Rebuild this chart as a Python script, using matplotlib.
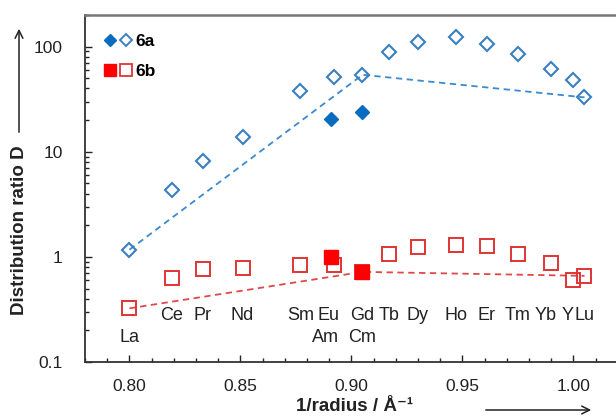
import numpy as np
import matplotlib
matplotlib.use("Agg")
import matplotlib.pyplot as plt
from matplotlib.lines import Line2D
from matplotlib.legend_handler import HandlerTuple

plt.rcParams['font.family'] = ['Liberation Sans', 'DejaVu Sans']

# lanthanides (+Y), open symbols
elements = ['La', 'Ce', 'Pr', 'Nd', 'Sm', 'Eu', 'Gd', 'Tb', 'Dy', 'Ho', 'Er', 'Tm', 'Yb', 'Y', 'Lu']
inv_radius = [0.800, 0.819, 0.833, 0.851, 0.877, 0.892, 0.905, 0.917, 0.930, 0.947, 0.961, 0.975, 0.990, 1.000, 1.005]
D_6a = [1.17, 4.35, 8.2, 13.7, 37.5, 51.4, 54.0, 88, 110, 123, 106, 85, 61, 48.5, 32.9]
D_6b = [0.324, 0.627, 0.764, 0.78, 0.84, 0.84, 0.72, 1.07, 1.25, 1.30, 1.27, 1.07, 0.88, 0.60, 0.66]

# actinides, filled symbols
actinides = ['Am', 'Cm']
inv_radius_an = [0.891, 0.905]
D_6a_an = [20.6, 23.9]
D_6b_an = [0.99, 0.72]

# dashed guide lines (La -> Gd -> Lu)
guide_x = [0.800, 0.905, 1.005]
guide_6a = [1.17, 54.0, 32.9]
guide_6b = [0.324, 0.72, 0.66]

blue_open = '#3a7fbf'
blue_fill = '#0a6cc0'
red_open = '#e03434'
red_fill = '#ff0000'

fig = plt.figure(figsize=(6.16, 4.16), dpi=100)
ax = fig.add_axes([85/616, 54/416, 531/616, 347/416])

ax.plot(guide_x, guide_6a, ls=(0, (3.5, 2.5)), color='#3a8ad0', lw=1.3)
ax.plot(guide_x, guide_6b, ls=(0, (3.5, 2.5)), color='#e04848', lw=1.3)

ax.plot(inv_radius, D_6a, 'D', ms=7, mfc='none', mec=blue_open, mew=1.5, ls='none')
ax.plot(inv_radius, D_6b, 's', ms=9.5, mfc='none', mec=red_open, mew=1.4, ls='none')
ax.plot(inv_radius_an, D_6a_an, 'D', ms=7.5, mfc=blue_fill, mec=blue_fill, ls='none')
ax.plot(inv_radius_an, D_6b_an, 's', ms=10, mfc=red_fill, mec=red_fill, ls='none')

# element labels under the symbols
nudge = {'Eu': -0.0025, 'Yb': -0.0025, 'Y': -0.0025}
for el, x in zip(elements, inv_radius):
    y = 0.17 if el == 'La' else 0.274
    ax.text(x + nudge.get(el, 0), y, el, ha='center', va='center', fontsize=13, color='#222222')
for el, x in zip(actinides, inv_radius_an):
    ax.text(x - 0.0025 if el == 'Am' else x, 0.17, el, ha='center', va='center', fontsize=13, color='#222222')

ax.set_yscale('log')
ax.set_xlim(0.78, 0.78 + 531/111*0.05)
ax.set_ylim(0.1, 200)
ax.set_xticks([0.80, 0.85, 0.90, 0.95, 1.00])
ax.set_xticklabels(['0.80', '0.85', '0.90', '0.95', '1.00'])
ax.set_xticks(np.arange(0.78, 1.02, 0.01), minor=True)
ax.set_yticks([0.1, 1, 10, 100])
ax.set_yticklabels(['0.1', '1', '10', '100'])
ax.tick_params(which='both', direction='in', top=False, right=False, labelsize=12.5, colors='#222222')
ax.tick_params(axis='x', pad=12)
ax.tick_params(axis='y', pad=16)
ax.tick_params(which='major', length=5, width=1)
ax.tick_params(which='minor', length=3, width=1)

for s in ['left', 'bottom']:
    ax.spines[s].set_color('#333333')
    ax.spines[s].set_linewidth(1.3)
ax.spines['top'].set_color('#777777')
ax.spines['top'].set_linewidth(1.8)
ax.spines['right'].set_visible(False)

# legend with filled + open symbol pairs
h6a = (Line2D([], [], marker='D', ms=6.5, color=blue_fill, ls='none'),
       Line2D([], [], marker='D', ms=6.5, mfc='none', mec=blue_open, mew=1.4, ls='none'))
h6b = (Line2D([], [], marker='s', ms=8.5, color=red_fill, ls='none'),
       Line2D([], [], marker='s', ms=8.5, mfc='none', mec=red_open, mew=1.3, ls='none'))
leg = ax.legend([h6a, h6b], ['6a', '6b'], handler_map={tuple: HandlerTuple(ndivide=None, pad=0.05)},
                loc='upper left', bbox_to_anchor=(0.005, 0.99), frameon=False, handlelength=1.7,
                handletextpad=0.15, labelspacing=0.85, prop={'weight': 'bold', 'size': 12.5})

# axis labels with arrows
fig.text(20/616, 1 - 230/416, 'Distribution ratio D', rotation=90, ha='center', va='center',
         fontsize=13.5, fontweight='bold', color='#222222')
fig.text(355/616, 1 / 416, '1/radius / Å⁻¹', ha='center', va='bottom',
         fontsize=13.5, fontweight='bold', color='#222222')
fig.add_artist(matplotlib.patches.FancyArrowPatch((19/616, 1 - 135/416), (19/616, 1 - 26/416),
               transform=fig.transFigure, arrowstyle='->', mutation_scale=14, lw=1.1, color='#222222'))
fig.add_artist(matplotlib.patches.FancyArrowPatch((483/616, 1 - 410/416), (594/616, 1 - 410/416),
               transform=fig.transFigure, arrowstyle='->', mutation_scale=14, lw=1.1, color='#222222'))

fig.savefig('out.png', dpi=100)
